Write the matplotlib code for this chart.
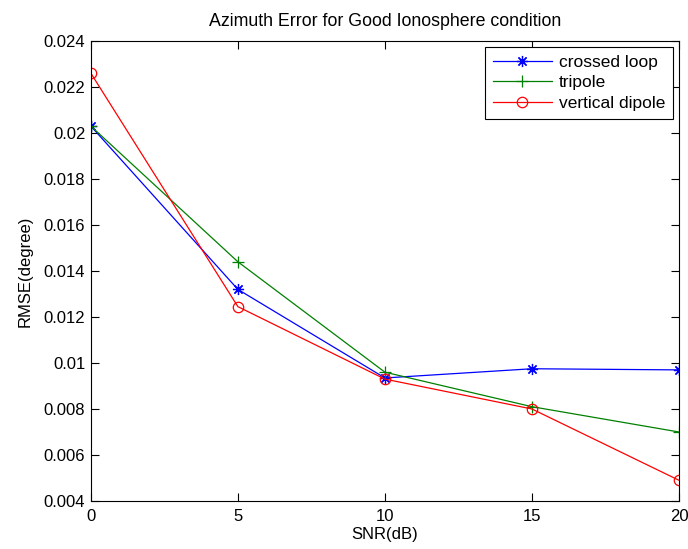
import numpy as np
import matplotlib.pyplot as plt
from matplotlib.ticker import FuncFormatter

plt.rcParams['font.family'] = ['Liberation Sans', 'DejaVu Sans']

# SNR points and RMSE values
snr = [0, 5, 10, 15, 20]
crossed_loop = [0.0203, 0.0132, 0.00935, 0.00975, 0.0097]
tripole = [0.0203, 0.0144, 0.0096, 0.0081, 0.0070]
vertical_dipole = [0.0226, 0.01245, 0.0093, 0.0080, 0.0049]

fs = 12

fig = plt.figure(figsize=(6.88, 5.49), dpi=100)
ax = fig.add_axes([0.132, 0.0874, 0.855, 0.838])

# matlab style asterisk marker (+ and x on top of each other)
ax.plot(snr, crossed_loop, color='#0000ff', marker=(8, 2, 0), markersize=8, mew=0.9, lw=0.9,
        label='crossed loop')
ax.plot(snr, tripole, color='#008000', marker='+', markersize=8, mew=0.9, lw=0.9, label='tripole')
ax.plot(snr, vertical_dipole, color='#ff0000', marker='o', markersize=7.5, mfc='none', mew=0.9,
        lw=0.9, label='vertical dipole')

ax.set_xlim(0, 20)
ax.set_ylim(0.004, 0.024)
ax.set_xticks(np.arange(0, 21, 5))
ax.set_yticks(np.arange(0.004, 0.0241, 0.002))
ax.yaxis.set_major_formatter(FuncFormatter(lambda v, p: '%g' % round(v, 4)))
ax.tick_params(direction='in', top=True, right=True, length=6, width=0.8, labelsize=fs)
ax.tick_params(axis='x', pad=6)
ax.tick_params(axis='y', pad=4)
for s in ax.spines.values():
    s.set_linewidth(0.8)

ax.set_title('Azimuth Error for Good Ionosphere condition', fontsize=12.8, pad=11)
ax.set_xlabel('SNR(dB)', fontsize=fs, labelpad=2)
ax.set_ylabel('RMSE(degree)', fontsize=fs, labelpad=8)

leg = ax.legend(loc='upper right', fontsize=12.5, fancybox=False, edgecolor='black',
                framealpha=1, borderaxespad=0.35, handlelength=3.4, handletextpad=0.4,
                borderpad=0.45, labelspacing=0.3)
leg.get_frame().set_linewidth(0.8)

fig.savefig('out.png', dpi=100)
